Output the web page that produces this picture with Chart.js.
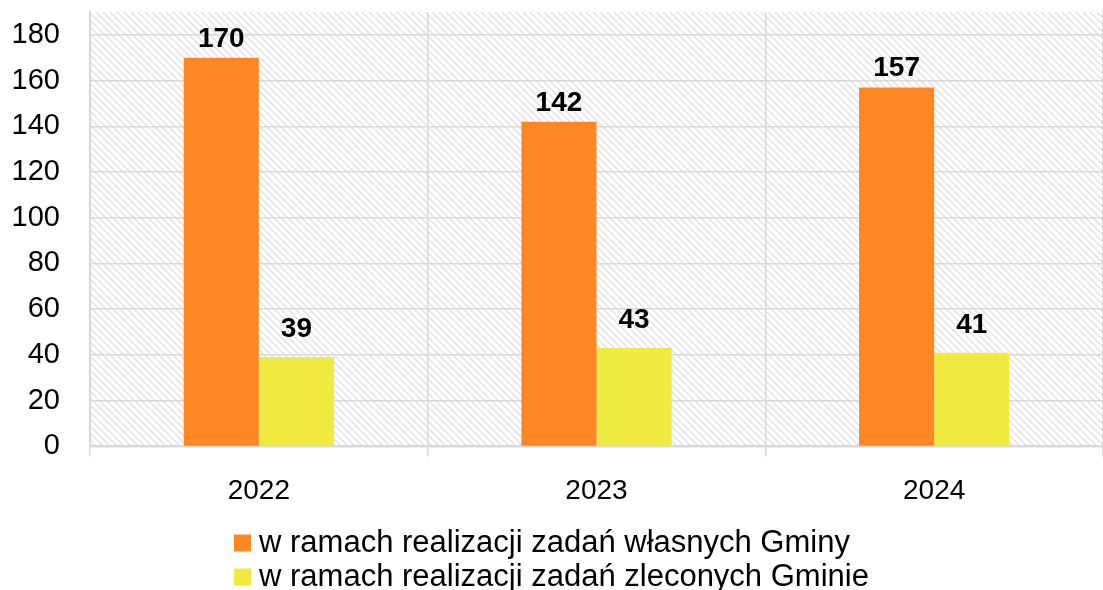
<!DOCTYPE html>
<html lang="pl">
<head>
    <meta charset="UTF-8">
    <title>Zadania Gminy 2022-2024</title>
    <script src="https://cdn.jsdelivr.net/npm/chart.js"></script>
    <style>
        html, body { margin: 0; padding: 0; background: #fff; }
        #wrap { width: 1103px; height: 590px; position: relative; }
    </style>
</head>
<body>
<div id="wrap"><canvas id="zadaniaChart"></canvas></div>
<script>
    const years = ['2022', '2023', '2024'];
    const ownTasks = [170, 142, 157];
    const commissionedTasks = [39, 43, 41];
    const seriesNames = [
        'w ramach realizacji zadań własnych Gminy',
        'w ramach realizacji zadań zleconych Gminie'
    ];
    const yTicks = [0, 20, 40, 60, 80, 100, 120, 140, 160, 180];

    const FONT = '"Liberation Sans", Arial, sans-serif';

    // diagonal light grey hatch for the plot area
    function makeHatch(ctx) {
        const c = document.createElement('canvas');
        c.width = 7; c.height = 7;
        const p = c.getContext('2d');
        p.fillStyle = '#fff';
        p.fillRect(0, 0, 7, 7);
        p.strokeStyle = '#e0e0e0';
        p.lineWidth = 1.3;
        p.beginPath();
        p.moveTo(-1, -1); p.lineTo(8, 8);
        p.moveTo(-8, -1); p.lineTo(1, 8);
        p.moveTo(6, -1); p.lineTo(15, 8);
        p.stroke();
        return ctx.createPattern(c, 'repeat');
    }

    const hatchBg = {
        id: 'hatchBg',
        beforeDraw(chart) {
            const { ctx, chartArea: a } = chart;
            ctx.save();
            ctx.fillStyle = makeHatch(ctx);
            ctx.fillRect(a.left, a.top, a.right - a.left, a.bottom - a.top);
            ctx.restore();
        }
    };

    // value above each bar; the short yellow bars get a bit more room
    const labelGap = [11, 20];
    const valueLabels = {
        id: 'valueLabels',
        afterDatasetsDraw(chart) {
            const ctx = chart.ctx;
            ctx.save();
            ctx.font = 'bold 28px ' + FONT;
            ctx.fillStyle = '#000';
            ctx.textAlign = 'center';
            ctx.textBaseline = 'alphabetic';
            chart.data.datasets.forEach((ds, i) => {
                chart.getDatasetMeta(i).data.forEach((bar, j) => {
                    ctx.fillText(ds.data[j], bar.x, bar.y - labelGap[i]);
                });
            });
            ctx.restore();
        }
    };

    // stacked, left-aligned legend under the axis
    const stackedLegend = {
        id: 'stackedLegend',
        afterDraw(chart) {
            const ctx = chart.ctx;
            const box = 17, gap = 8, rowH = 34;
            ctx.save();
            ctx.font = '31px ' + FONT;
            const widths = chart.data.datasets.map(ds => ctx.measureText(ds.label).width);
            const blockW = box + gap + Math.max(...widths);
            const left = Math.round((chart.width - blockW) / 2);
            let y = chart.height - 47;
            ctx.textBaseline = 'alphabetic';
            ctx.textAlign = 'left';
            chart.data.datasets.forEach(ds => {
                ctx.fillStyle = ds.backgroundColor;
                ctx.fillRect(left, y - box / 2, box, box);
                ctx.fillStyle = '#000';
                ctx.fillText(ds.label, left + box + gap, y + box / 2);
                y += rowH;
            });
            ctx.restore();
        }
    };

    new Chart(document.getElementById('zadaniaChart'), {
        type: 'bar',
        data: {
            labels: years,
            datasets: [
                { label: seriesNames[0], data: ownTasks, backgroundColor: '#fd8823' },
                { label: seriesNames[1], data: commissionedTasks, backgroundColor: '#eeea40' }
            ]
        },
        options: {
            responsive: true,
            maintainAspectRatio: false,
            animation: false,
            layout: { padding: { top: 12, right: 0, left: 0, bottom: 64 } },
            datasets: { bar: { barPercentage: 1, categoryPercentage: 0.445 } },
            scales: {
                x: {
                    grid: { color: '#d9d9d9', lineWidth: 1.5, offset: true, tickLength: 10 },
                    border: { color: '#d9d9d9', width: 2 },
                    ticks: { color: '#000', font: { family: FONT, size: 28 }, padding: 18 }
                },
                y: {
                    min: 0,
                    max: 190,
                    afterBuildTicks: s => { s.ticks = yTicks.map(v => ({ value: v })); },
                    afterFit: s => { s.width = 90; s.paddingTop = 0; s.paddingBottom = 0; },
                    grid: { color: '#d9d9d9', lineWidth: 1.5, drawTicks: false },
                    border: { color: '#d9d9d9', width: 2 },
                    ticks: { color: '#000', font: { family: FONT, size: 29 }, padding: 30 }
                }
            },
            plugins: {
                legend: { display: false },
                tooltip: { enabled: false }
            }
        },
        plugins: [hatchBg, valueLabels, stackedLegend]
    });
</script>
</body>
</html>
